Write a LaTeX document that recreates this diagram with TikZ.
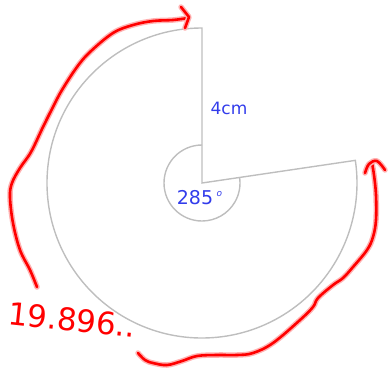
\documentclass[tikz,border=0pt]{standalone}
\usepackage{fontspec}
\newfontfamily\labelfont{DejaVu Sans}
\definecolor{pengray}{RGB}{190,190,190}
\definecolor{penblue}{RGB}{50,60,235}
\definecolor{penred}{RGB}{255,0,0}
\usetikzlibrary{positioning}

\begin{document}
\begin{tikzpicture}[x=1pt, y=-1pt,
  outline/.style={draw=pengray, line width=1.4pt, line join=miter},
  glow/.style={draw=penred!30, line width=5.5pt, line cap=round, line join=round},
  ink/.style={draw=penred, line width=2.6pt, line cap=round, line join=round, preaction={glow}},
  value/.style={font=\labelfont\fontsize{17}{17}\selectfont, text=penblue, inner sep=0pt},
  scrawl/.style={font=\labelfont\fontsize{31}{31}\selectfont, text=penred, inner sep=0pt}
]
  \useasboundingbox (0,0) rectangle (388,368);

  % sector and angle mark
  \coordinate (o) at (202,183);
  \draw[outline] (o) -- (202,28) arc[start angle=-90, end angle=-368.4, radius=155] -- cycle;
  \draw[outline] (202,145) arc[start angle=-90, end angle=-368.4, radius=38];

  % labels
  \node[value] (radius) at (229,108) {4cm};
  \node[value, font=\labelfont\fontsize{19}{19}\selectfont] (angle) at (195,198) {285};
  \node[value, font=\labelfont\itshape\fontsize{9}{9}\selectfont, right=3pt of angle.north east, anchor=north west, yshift=-1pt] (deg) {o};

  % red working
  \draw[ink] plot[smooth, tension=0.6] coordinates {(37,287) (30,270) (20,250) (13,223) (10,197) (12,183) (20,168) (31,152) (43,127) (53,107) (62,90) (77,67) (90,52) (113,33) (133,25) (153,21) (173,20) (188,18)};
  \draw[ink] (181,7) -- (189,17) -- (185,28);

  \draw[ink] plot[smooth, tension=0.6] coordinates {(138,353) (145,360) (153,363) (167,365) (182,361) (197,356) (217,355) (237,355) (253,353) (273,343) (300,320) (313,307) (318,298) (333,285) (343,278) (353,267) (367,250) (373,237) (376,220) (376,195) (374,175) (372,163)};
  \draw[ink] plot[smooth, tension=0.6] coordinates {(365,173) (369,164) (377,161) (385,170)};

  \node[scrawl, rotate=-6] (arc) at (72,320) {19.896..};
\end{tikzpicture}
\end{document}
